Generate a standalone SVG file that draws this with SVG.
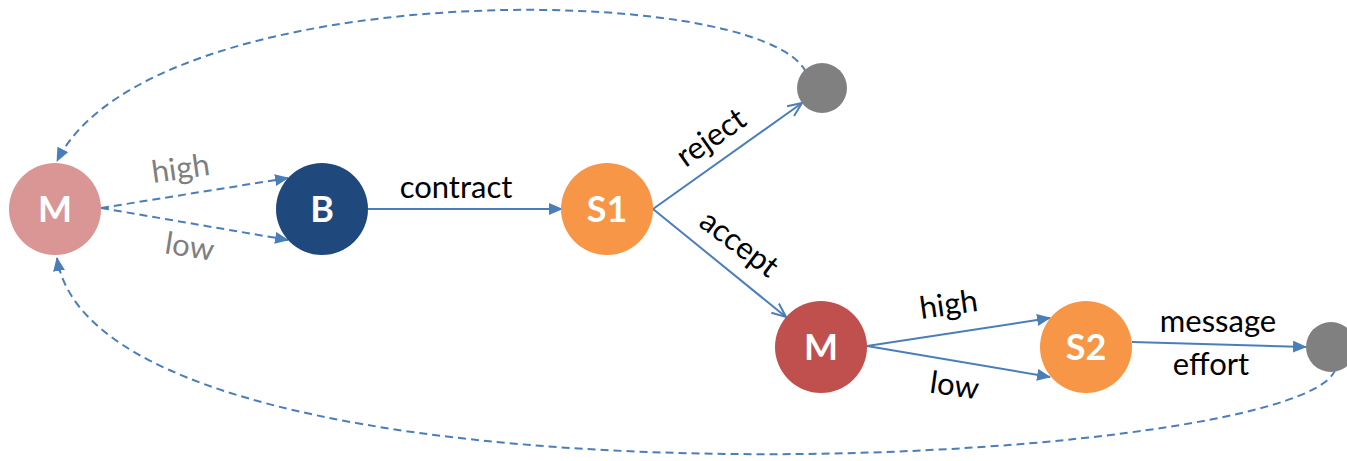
<svg xmlns="http://www.w3.org/2000/svg" width="1347" height="461" viewBox="0 0 1347 461">
  <style>
    .edge { fill: none; stroke: #4A7EBB; stroke-width: 2; }
    .dash { stroke-dasharray: 8 5; }
    .lbl { font-family: Lato, "Liberation Sans", sans-serif; font-size: 31px; fill: #000; text-anchor: middle; }
    .grey { fill: #7F7F7F; }
    .nl { font-family: Lato, "Liberation Sans", sans-serif; font-size: 36px; font-weight: bold; fill: #fff; text-anchor: middle; }
  </style>
  <defs>
    <marker id="tri" viewBox="0 0 14 12" refX="13" refY="6" markerWidth="14" markerHeight="12" markerUnits="userSpaceOnUse" orient="auto">
      <path d="M0,0 L14,6 L0,12 Z" fill="#4A7EBB"/>
    </marker>
    <marker id="vee" viewBox="0 0 16 14" refX="15" refY="7" markerWidth="16" markerHeight="14" markerUnits="userSpaceOnUse" orient="auto">
      <path d="M1,1 L15,7 L1,13" fill="none" stroke="#4A7EBB" stroke-width="2"/>
    </marker>
  </defs>

  <!-- connectors -->
  <g id="connectors">
    <path class="edge dash" d="M101,208 L288,178" marker-end="url(#tri)"/>
    <path class="edge dash" d="M101,208 L288,240" marker-end="url(#tri)"/>
    <path class="edge" d="M368,209 L562,209" marker-end="url(#tri)"/>
    <path class="edge" d="M653,209 L802,103" marker-end="url(#vee)"/>
    <path class="edge" d="M653,209 L786,317" marker-end="url(#vee)"/>
    <path class="edge" d="M867,346 L1050,318" marker-end="url(#tri)"/>
    <path class="edge" d="M867,346 L1050,377" marker-end="url(#tri)"/>
    <path class="edge" d="M1132,342 L1306,347" marker-end="url(#tri)"/>
    <path class="edge dash" d="M806,72 C760,-20 150,-25 57,161" marker-end="url(#tri)"/>
    <path class="edge dash" d="M1335,370 C1300,470 100,530 57,258" marker-end="url(#tri)"/>

    <text class="lbl grey" transform="translate(182,179) rotate(-8)">high</text>
    <text class="lbl grey" transform="translate(188,257) rotate(9)">low</text>
    <text class="lbl" x="456" y="198">contract</text>
    <text class="lbl" transform="translate(717,146) rotate(-35)">reject</text>
    <text class="lbl" transform="translate(733,252) rotate(37)">accept</text>
    <text class="lbl" transform="translate(950,315) rotate(-8)">high</text>
    <text class="lbl" transform="translate(953,396) rotate(8)">low</text>
    <text class="lbl" x="1218" y="332">message</text>
    <text class="lbl" x="1211" y="375">effort</text>
  </g>

  <g id="m1">
    <circle cx="55" cy="209" r="46" fill="#D99694"/>
    <text class="nl" x="55" y="222">M</text>
  </g>
  <g id="b">
    <circle cx="322" cy="209" r="46" fill="#1F497D"/>
    <text class="nl" x="322" y="222">B</text>
  </g>
  <g id="s1">
    <circle cx="607" cy="209" r="46" fill="#F79646"/>
    <text class="nl" x="607" y="222">S1</text>
  </g>
  <g id="end1">
    <circle cx="822" cy="88" r="25" fill="#808080"/>
  </g>
  <g id="m2">
    <circle cx="821" cy="347" r="46" fill="#C0504D"/>
    <text class="nl" x="821" y="360">M</text>
  </g>
  <g id="s2">
    <circle cx="1086" cy="347" r="46" fill="#F79646"/>
    <text class="nl" x="1086" y="360">S2</text>
  </g>
  <g id="end2">
    <circle cx="1331" cy="347" r="25" fill="#808080"/>
  </g>
</svg>
